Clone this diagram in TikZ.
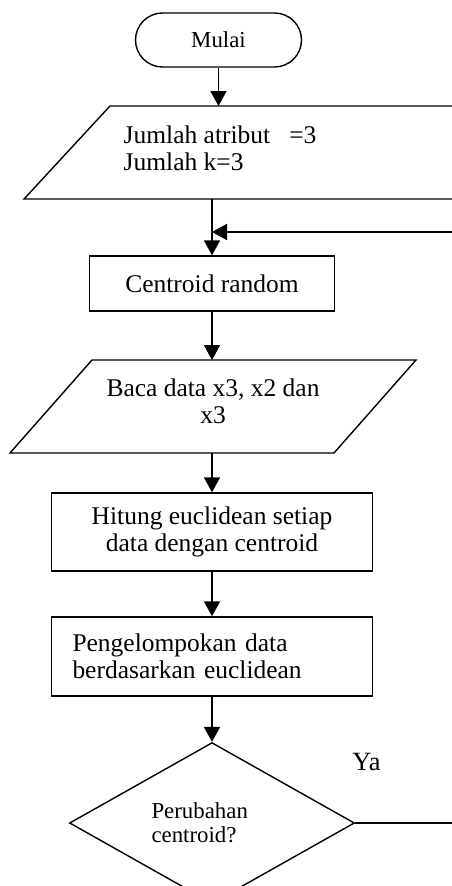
\documentclass[tikz,border=0pt]{standalone}
\usepackage{fontspec}
\setmainfont{Liberation Serif}
\usetikzlibrary{arrows.meta,shapes.geometric}

\newcommand{\boxfont}{\fontsize{14.5}{15.5}\selectfont}
\newcommand{\smallboxfont}{\fontsize{13}{13.5}\selectfont}

\begin{document}
\begin{tikzpicture}[
    line width=0.8pt,
    arrow/.style={line width=1pt,-{Triangle[length=3mm,width=3.2mm]}},
    flow/.style={line width=1pt},
    terminal/.style={
      draw,
      rounded corners=5.4mm,
      minimum width=3.32cm,
      minimum height=1.08cm,
      inner sep=0pt,
      font=\smallboxfont
    },
    process/.style={
      draw,
      minimum height=1.1cm,
      inner sep=2pt,
      align=center,
      font=\boxfont
    },
    iotext/.style={
      inner sep=0pt,
      align=center,
      font=\boxfont
    },
    decision/.style={
      draw,
      diamond,
      minimum width=5.7cm,
      minimum height=2.6cm,
      inner sep=0pt,
      align=left,
      font=\smallboxfont
    }
  ]

  \useasboundingbox (0,0) rectangle (9.04,-17.72);

  % main column
  \def\xMain{4.24}

  % =====================================================
  % NODES
  % =====================================================
  \node[terminal] (mulai) at (4.37,-0.80) {Mulai};

  % input: parallelogram runs past the right border
  \draw (0.48,-3.98) -- (2.20,-2.12) -- (10.9,-2.12) -- (9.18,-3.98) -- cycle;
  \coordinate (inputAtas) at (4.37,-2.12);
  \coordinate (inputBawah) at (\xMain,-3.98);
  \node[iotext, anchor=west, align=left] (input) at (2.46,-2.97)
  {Jumlah atribut\ \ \ =3\\Jumlah k=3};

  \node[process, minimum width=4.9cm] (centroid) at (\xMain,-5.67)
  {Centroid random};

  % baca data
  \draw (0.20,-9.06) -- (1.84,-7.20) -- (8.32,-7.20) -- (6.68,-9.06) -- cycle;
  \coordinate (bacaAtas) at (\xMain,-7.20);
  \coordinate (bacaBawah) at (\xMain,-9.06);
  \node[iotext] (baca) at (4.26,-8.02) {Baca data x3, x2 dan\\x3};

  \node[process, minimum width=6.42cm, minimum height=1.56cm]
  (hitung) at (\xMain,-10.64) {Hitung euclidean setiap\\data dengan centroid};

  \node[process, minimum width=6.42cm, minimum height=1.58cm,
    text width=5.58cm, align=left]
  (kelompok) at (\xMain,-13.13) {Pengelompokan data\\berdasarkan euclidean};

  \node[decision, text width=2.42cm] (cek) at (\xMain,-16.46)
  {Perubahan\\centroid?};

  \node[font=\fontsize{15}{15}\selectfont] (ya) at (7.33,-15.24) {Ya};

  % loose ends at the right border
  \coordinate (balik) at (9.3,-4.64);
  \coordinate (keluar) at (9.3,-16.46);

  % =====================================================
  % ARROWS
  % =====================================================
  \draw[arrow] (mulai.south) -- (inputAtas);
  \draw[arrow] (inputBawah) -- (centroid.north);
  \draw[arrow] (balik) -- (balik -| centroid.north);
  \draw[arrow] (centroid.south) -- (bacaAtas);
  \draw[arrow] (bacaBawah) -- (hitung.north);
  \draw[arrow] (hitung.south) -- (kelompok.north);
  \draw[arrow] (kelompok.south) -- (cek.north);
  \draw[flow] (cek.east) -- (keluar);

\end{tikzpicture}
\end{document}
